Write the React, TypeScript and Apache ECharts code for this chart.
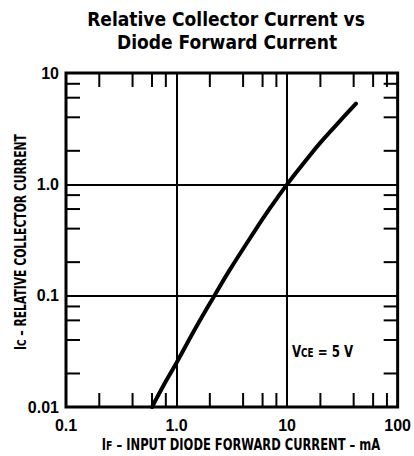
import React, { useEffect, useRef } from "react";
import * as echarts from "echarts";

// ---- data ----
const xRange = [0.1, 100];
const yRange = [0.01, 10];
const xTickLabels = ["0.1", "1.0", "10", "100"];
const yTickLabels = ["0.01", "0.1", "1.0", "10"];
const xMinorTicks = [0.2, 0.4, 0.6, 0.8, 2, 4, 6, 8, 20, 40, 60, 80];
const yMinorTicks = [0.02, 0.04, 0.06, 0.08, 0.2, 0.4, 0.6, 0.8, 2, 4, 6, 8];
const ifValues = [0.6, 0.8, 1.0, 1.5, 2.2, 3, 5, 7, 10, 15, 20, 30, 42];
const icValues = [0.01, 0.017, 0.025, 0.052, 0.1, 0.168, 0.37, 0.61, 1.0, 1.67, 2.37, 3.7, 5.3];

const FONT = "'DejaVu Sans Condensed', 'DejaVu Sans', sans-serif";
const LABEL_FONT = "'Liberation Sans', Arial, sans-serif";

export default function App() {
  const ref = useRef<HTMLDivElement>(null);
  useEffect(() => {
    if (!ref.current) return;
    const chart = echarts.init(ref.current, undefined, { renderer: "svg" });
    const TICK = 14;
    const tickSeriesX = {
      type: "custom",
      silent: true,
      data: xMinorTicks.map((v) => [v, 1]),
      renderItem: (params: any, api: any) => {
        const v = api.value(0);
        const b = api.coord([v, yRange[0]]);
        const t = api.coord([v, yRange[1]]);
        return {
          type: "group",
          children: [
            { type: "line", shape: { x1: b[0], y1: b[1], x2: b[0], y2: b[1] - TICK }, style: { stroke: "#000", lineWidth: 2 } },
            { type: "line", shape: { x1: t[0], y1: t[1], x2: t[0], y2: t[1] + TICK }, style: { stroke: "#000", lineWidth: 2 } },
          ],
        };
      },
    };
    const tickSeriesY = {
      type: "custom",
      silent: true,
      data: yMinorTicks.map((v) => [1, v]),
      renderItem: (params: any, api: any) => {
        const v = api.value(1);
        const l = api.coord([xRange[0], v]);
        const r = api.coord([xRange[1], v]);
        return {
          type: "group",
          children: [
            { type: "line", shape: { x1: l[0], y1: l[1], x2: l[0] + TICK, y2: l[1] }, style: { stroke: "#000", lineWidth: 2 } },
            { type: "line", shape: { x1: r[0], y1: r[1], x2: r[0] - TICK, y2: r[1] }, style: { stroke: "#000", lineWidth: 2 } },
          ],
        };
      },
    };
    const labelStyle = { color: "#000", fontFamily: LABEL_FONT, fontSize: 16, fontWeight: "bold" as const };
    const sub = (size: number) => ({ fontSize: size, fontWeight: "bold", fontFamily: FONT, verticalAlign: "bottom" });
    chart.setOption({
      animation: false,
      backgroundColor: "#fff",
      grid: { left: 66, right: 10, top: 73, bottom: 49, show: true, borderColor: "#000", borderWidth: 3, backgroundColor: "transparent" },
      xAxis: {
        type: "log",
        logBase: 10,
        min: xRange[0],
        max: xRange[1],
        axisLine: { show: false },
        axisTick: { show: false },
        splitLine: { show: true, lineStyle: { color: "#000", width: 2 } },
        axisLabel: {
          ...labelStyle,
          margin: 10,
          formatter: (v: number) => xTickLabels[Math.round(Math.log10(v)) + 1] ?? "",
        },
      },
      yAxis: {
        type: "log",
        logBase: 10,
        min: yRange[0],
        max: yRange[1],
        axisLine: { show: false },
        axisTick: { show: false },
        splitLine: { show: true, lineStyle: { color: "#000", width: 2 } },
        axisLabel: {
          ...labelStyle,
          margin: 7,
          formatter: (v: number) => yTickLabels[Math.round(Math.log10(v)) + 2] ?? "",
        },
      },
      series: [
        tickSeriesX,
        tickSeriesY,
        {
          type: "line",
          data: ifValues.map((x, i) => [x, icValues[i]]),
          showSymbol: false,
          smooth: 0.4,
          lineStyle: { color: "#000", width: 4, cap: "round" },
          z: 5,
        },
      ],
      graphic: [
        {
          type: "text",
          x: 226,
          y: 19,
          style: { text: "Relative Collector Current vs", font: `bold 19px ${FONT}`, fill: "#000", align: "center", verticalAlign: "middle" },
        },
        {
          type: "text",
          x: 227,
          y: 42,
          style: { text: "Diode Forward Current", font: `bold 19px ${FONT}`, fill: "#000", align: "center", verticalAlign: "middle" },
        },
        {
          type: "group",
          x: 20,
          y: 242,
          rotation: Math.PI / 2,
          children: [
            {
              type: "text",
              x: 0,
              y: 0,
              scaleX: 0.75,
              style: {
                text: "I{s|C} – RELATIVE COLLECTOR CURRENT",
                font: `bold 16px ${FONT}`,
                fill: "#000",
                align: "center",
                verticalAlign: "middle",
                rich: { s: sub(13) },
              },
            },
          ],
        },
        {
          type: "text",
          x: 241,
          y: 444,
          scaleX: 0.8,
          style: {
            text: "I{s|F} – INPUT DIODE FORWARD CURRENT – mA",
            font: `bold 16px ${FONT}`,
            fill: "#000",
            align: "center",
            verticalAlign: "middle",
            rich: { s: sub(13) },
          },
        },
        {
          type: "text",
          x: 292,
          y: 351,
          scaleX: 0.82,
          style: {
            text: "V{s|CE} = 5 V",
            font: `bold 16px ${FONT}`,
            fill: "#000",
            align: "left",
            verticalAlign: "middle",
            rich: { s: sub(12) },
          },
        },
      ],
    });
    return () => chart.dispose();
  }, []);
  return <div ref={ref} style={{ position: "fixed", left: 0, top: 0, width: 414, height: 456 }} />;
}
